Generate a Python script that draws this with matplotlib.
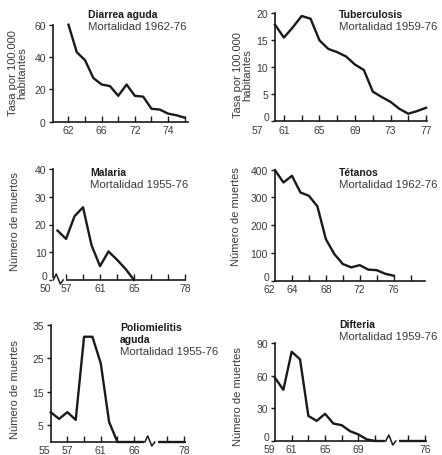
import matplotlib
matplotlib.use("Agg")
import matplotlib.pyplot as plt

plt.rcParams['font.family'] = ['Liberation Sans', 'DejaVu Sans']

W, H = 442, 456
INK = '#1a1a1a'
TXT = '#3a3a3a'

# --- data ---
diarrea_years = list(range(62, 77))
diarrea_vals = [60, 43, 38, 27, 23, 22, 16, 23, 16, 15.5, 8, 7.5, 5, 4, 2.5]

tb_years = list(range(59, 77))
tb_vals = [17.9, 15.5, 17.4, 19.5, 19.0, 15.0, 13.4, 12.8, 12.0, 10.5, 9.5,
           5.5, 4.5, 3.6, 2.3, 1.4, 1.9, 2.5]

malaria_years = list(range(56, 66))
malaria_vals = [17.8, 14.8, 23, 26.2, 12.5, 5, 10.3, 7.3, 4, 0]

tetanos_years = list(range(62, 77))
tetanos_vals = [398, 354, 378, 318, 306, 268, 150, 96, 60, 48, 56, 40, 38, 25, 18]

polio_years = list(range(55, 72))
polio_vals = [8.9, 6.9, 8.9, 6.6, 31.4, 31.4, 23.5, 6, 0, 0, 0, 0, 0, 0, 0, 0, 0]

difteria_years = list(range(59, 78))
difteria_vals = [58, 47, 82, 75, 23, 18.5, 25, 16, 14.5, 9, 6, 1.5,
                 0, 0, 0, 0, 0, 0, 0]

fig = plt.figure(figsize=(W / 100, H / 100), dpi=100)


def make_axes(x0, x1, ytop, ybot):
    return fig.add_axes([x0 / W, 1 - ybot / H, (x1 - x0) / W, (ybot - ytop) / H])


def style(ax, xlim, ylim, yticks, xticks, xlabels, lift_zero=False):
    ax.set_xlim(*xlim)
    ax.set_ylim(*ylim)
    for s in ('top', 'right'):
        ax.spines[s].set_visible(False)
    for s in ('left', 'bottom'):
        ax.spines[s].set_linewidth(1.2)
        ax.spines[s].set_color(INK)
    ylabels = [str(v) for v in yticks]
    if lift_zero:
        # the "0" sits a little above the axis in the original
        ylabels[0] = ''
        ax.annotate('0', xy=(xlim[0], 0), xycoords='data', xytext=(-6, 4),
                    textcoords='offset pixels', ha='right', va='center',
                    fontsize=7.5, color=TXT, annotation_clip=False)
    ax.set_yticks(yticks)
    ax.set_yticklabels(ylabels)
    ax.set_xticks(xticks)
    ax.set_xticklabels(xlabels)
    ax.tick_params(axis='y', direction='out', length=3, width=1, pad=2,
                   labelsize=7.5, labelcolor=TXT, color=INK)
    ax.tick_params(axis='x', direction='in', length=4, width=1, pad=2.5,
                   labelsize=7.5, labelcolor=TXT, color=INK)


def origin_label(ax, text, dx):
    ax.annotate(text, xy=(ax.get_xlim()[0], 0), xycoords='data',
                xytext=(dx, -3.5), textcoords='offset pixels',
                ha='center', va='top', fontsize=7.5, color=TXT,
                annotation_clip=False)


def zig(ax, x):
    tr = ax.transData
    px, py = tr.transform((x, 0))
    inv = tr.inverted()
    gap = inv.transform([(px - 5, py), (px + 5, py)])
    ax.plot(gap[:, 0], gap[:, 1], color='white', lw=3, clip_on=False, zorder=5)
    pts = inv.transform([(px - 6, py), (px - 3, py + 6), (px + 1, py - 4), (px + 4, py)])
    ax.plot(pts[:, 0], pts[:, 1], color=INK, lw=1.1, clip_on=False, zorder=6)


def titles(x, y, lines):
    for i, t in enumerate(lines):
        bold = i < len(lines) - 1
        fig.text(x / W, 1 - (y + 12 * i) / H, t, fontsize=7.5 if bold else 8.2,
                 fontweight='bold' if bold else 'normal',
                 color=INK if bold else TXT, ha='left', va='center')


def ylabel(x, y, text):
    fig.text(x / W, 1 - y / H, text, rotation=90, fontsize=8, color=TXT,
             ha='center', va='center', linespacing=1.0, multialignment='center')


# Diarrea aguda
ax1 = make_axes(52.7, 188, 25.7, 122.7)
ax1.plot(diarrea_years, diarrea_vals, color=INK, lw=1.7, clip_on=False)
style(ax1, (60.1, 76.4), (0, 60), [0, 20, 40, 60],
      list(range(62, 77, 2)), ['62', '', '66', '', '72', '', '74', ''])
titles(88, 15, ['Diarrea aguda', 'Mortalidad 1962-76'])
ylabel(17.5, 73, 'Tasa por 100.000\nhabitantes')

# Tuberculosis
ax2 = make_axes(275, 427, 14.3, 122.3)
ax2.plot(tb_years, tb_vals, color=INK, lw=1.7, clip_on=False)
style(ax2, (59, 76.1), (0, 20), [0, 5, 10, 15, 20],
      list(range(60, 77, 2)), ['61', '', '65', '', '69', '', '73', '', '77'],
      lift_zero=True)
origin_label(ax2, '57', -18)
titles(339, 15, ['Tuberculosis', 'Mortalidad 1959-76'])
ylabel(242.5, 75, 'Tasa por 100.000\nhabitantes')

# Malaria
ax3 = make_axes(53.3, 185, 170, 281)
ax3.plot(malaria_years, malaria_vals, color=INK, lw=1.7, clip_on=False)
style(ax3, (55.5, 71.0), (0, 40), [0, 10, 20, 30, 40],
      list(range(57, 72, 2)), ['57', '', '61', '', '65', '', '', '78'],
      lift_zero=True)
origin_label(ax3, '50', -8)
zig(ax3, 56.2)
titles(90, 173, ['Malaria', 'Mortalidad 1955-76'])
ylabel(15, 222, 'Número de muertos')

# Tetanos
ax4 = make_axes(275, 425, 170.7, 281.7)
ax4.plot(tetanos_years, tetanos_vals, color=INK, lw=1.7, clip_on=False)
style(ax4, (62, 79.7), (0, 400), [0, 100, 200, 300, 400],
      list(range(64, 80, 2)), ['64', '', '68', '', '72', '', '76', ''],
      lift_zero=True)
origin_label(ax4, '62', -6)
titles(339, 173, ['Tétanos', 'Mortalidad 1962-76'])
ylabel(236, 217, 'Número de muertes')

# Poliomielitis aguda
ax5 = make_axes(50.7, 185, 325.7, 443)
ax5.plot(polio_years, polio_vals, color=INK, lw=1.7, clip_on=False)
style(ax5, (55, 71.1), (0, 35), [5, 15, 25, 35],
      [57, 59, 61, 63, 65, 69, 71], ['57', '', '61', '', '66', '', '78'])
origin_label(ax5, '55', -6)
zig(ax5, 67)
titles(120, 328, ['Poliomielitis', 'aguda', 'Mortalidad 1955-76'])
ylabel(15, 390, 'Número de muertes')

# Difteria
ax6 = make_axes(275, 426, 344, 442)
ax6.plot(difteria_years, difteria_vals, color=INK, lw=1.7, clip_on=False)
style(ax6, (59, 77.1), (0, 90), [0, 30, 60, 90],
      [61, 63, 65, 67, 69, 71, 75, 77], ['61', '', '65', '', '69', '', '', '76'],
      lift_zero=True)
origin_label(ax6, '59', -6)
zig(ax6, 73)
titles(339, 325, ['Difteria', 'Mortalidad 1959-76'])
ylabel(238, 397, 'Número de muertes')

fig.savefig('out.png', dpi=100, facecolor='white')
